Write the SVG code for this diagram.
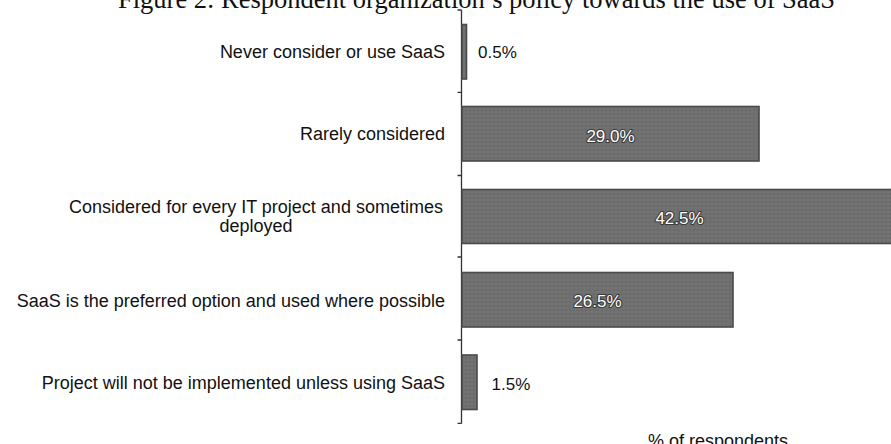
<svg xmlns="http://www.w3.org/2000/svg" width="891" height="444" viewBox="0 0 891 444">
  <style>
    .title { font-family: "Liberation Serif", "Times New Roman", serif; font-size: 26.5px; fill: #111; }
    .cat { font-family: "Liberation Sans", Arial, sans-serif; font-size: 18px; fill: #111; text-anchor: end; }
    .catc { font-family: "Liberation Sans", Arial, sans-serif; font-size: 18px; fill: #111; text-anchor: middle; }
    .val { font-family: "Liberation Sans", Arial, sans-serif; font-size: 17px; fill: #111; }
    .inval { font-family: "Liberation Sans", Arial, sans-serif; font-size: 17px; fill: #fff; text-anchor: middle; stroke: #3a3a3a; stroke-width: 2.2px; paint-order: stroke; stroke-linejoin: round; }
    .bar { fill: url(#dots); stroke: #4a4a4a; stroke-width: 1.6; }
    .axis { stroke: #333; stroke-width: 1.3; fill: none; }
    .xlab { font-family: "Liberation Sans", Arial, sans-serif; font-size: 18px; fill: #111; text-anchor: middle; }
  </style>
  <defs>
    <pattern id="dots" width="4" height="4" patternUnits="userSpaceOnUse">
      <rect width="4" height="4" fill="#717171"/>
      <circle cx="2" cy="2" r="0.7" fill="#5e5e5e"/>
    </pattern>
  </defs>
  <rect width="891" height="444" fill="#fff"/>

  <text class="title" x="118" y="8">Figure 2: Respondent organization’s policy towards the use of SaaS</text>

  <g id="axis">
    <path class="axis" d="M461.5 10 V423.5 M457.5 10 H461.5 M457.5 92.3 H461.5 M457.5 175.5 H461.5 M457.5 257 H461.5 M457.5 340 H461.5 M457.5 423.3 H461.5"/>
  </g>

  <g id="cat1">
    <text class="cat" x="445" y="58">Never consider or use SaaS</text>
    <rect class="bar" x="462" y="24.5" width="4.5" height="54.5"/>
    <text class="val" x="478" y="58.3">0.5%</text>
  </g>

  <g id="cat2">
    <text class="cat" x="445" y="140">Rarely considered</text>
    <rect class="bar" x="462" y="106.5" width="297" height="54.5"/>
    <text class="inval" x="610.5" y="141.5">29.0%</text>
  </g>

  <g id="cat3">
    <text class="catc" x="256" y="212.5">Considered for every IT project and sometimes</text>
    <text class="catc" x="256" y="232">deployed</text>
    <rect class="bar" x="462" y="189.5" width="436" height="54"/>
    <text class="inval" x="679.5" y="224">42.5%</text>
  </g>

  <g id="cat4">
    <text class="cat" x="445" y="306.5">SaaS is the preferred option and used where possible</text>
    <rect class="bar" x="462" y="272.5" width="271" height="54.5"/>
    <text class="inval" x="597.5" y="306.5">26.5%</text>
  </g>

  <g id="cat5">
    <text class="cat" x="445" y="388.5">Project will not be implemented unless using SaaS</text>
    <rect class="bar" x="462" y="355" width="15" height="54.5"/>
    <text class="val" x="491.5" y="390">1.5%</text>
  </g>

  <text class="xlab" x="718" y="446.5">% of respondents</text>
</svg>
